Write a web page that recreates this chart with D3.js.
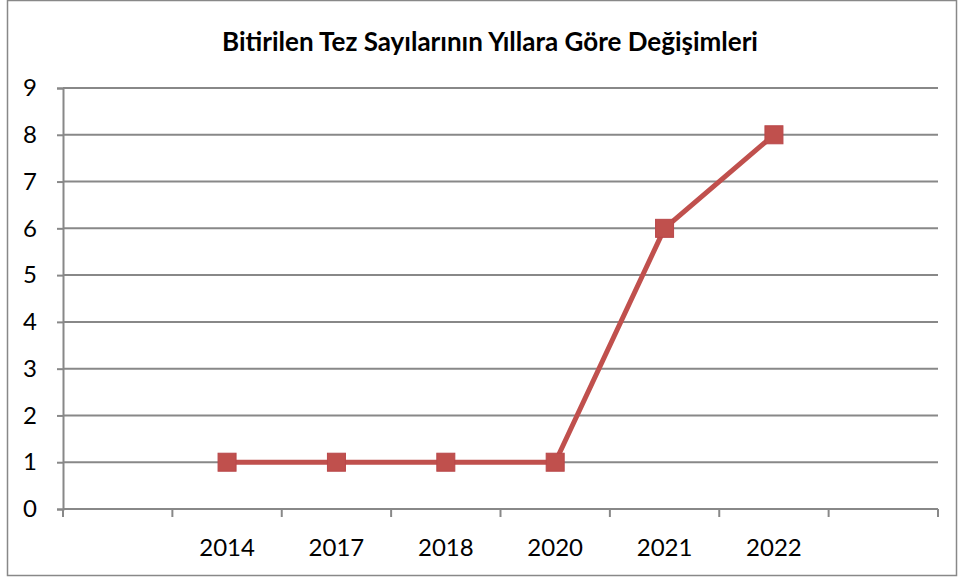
<html>
  <style type="text/css">
    body { margin: 0; background: #fff; }
    text { font-family: Lato, "Open Sans", sans-serif; }
  </style>
  <body>
    <script src="https://cdnjs.cloudflare.com/ajax/libs/d3/7.8.5/d3.min.js"></script>
    <script type="text/javascript">
      // categories (first and last slots are empty in the original chart)
      const years = ["", "2014", "2017", "2018", "2020", "2021", "2022", " "];
      const counts = [null, 1, 1, 1, 1, 6, 8, null];
      const yTicks = [0, 1, 2, 3, 4, 5, 6, 7, 8, 9];
      const title = "Bitirilen Tez Sayılarının Yıllara Göre Değişimleri";

      const W = 958, H = 577;
      const plot = { left: 63, right: 938, top: 88, bottom: 509 };

      const svg = d3.select("body").append("svg")
        .attr("width", W).attr("height", H);

      svg.append("rect")
        .attr("x", 7.5).attr("y", 0.5)
        .attr("width", 949).attr("height", 575)
        .attr("fill", "#fff").attr("stroke", "#888").attr("stroke-width", 1.5);

      svg.append("text")
        .attr("x", 490).attr("y", 51)
        .attr("text-anchor", "middle")
        .attr("font-size", 26).attr("font-weight", "bold")
        .text(title);

      const x = d3.scaleBand().domain(years).range([plot.left, plot.right]);
      const y = d3.scaleLinear().domain([0, 9]).range([plot.bottom, plot.top]);

      // gridlines
      svg.append("g").selectAll("line")
        .data(yTicks.filter(d => d > 0))
        .enter().append("line")
        .attr("x1", plot.left).attr("x2", plot.right)
        .attr("y1", d => y(d)).attr("y2", d => y(d))
        .attr("stroke", "#888").attr("stroke-width", 2);

      // y axis
      const yAxis = svg.append("g")
        .attr("transform", `translate(${plot.left},0)`)
        .call(d3.axisLeft(y).tickValues(yTicks).tickSize(6).tickPadding(20));
      yAxis.select(".domain").attr("stroke", "#888").attr("stroke-width", 2);
      yAxis.selectAll(".tick line").attr("stroke", "#888").attr("stroke-width", 2);
      yAxis.selectAll("text").attr("font-size", 24).attr("fill", "#000")
        .attr("font-family", "Lato, sans-serif");

      // x axis: ticks at band boundaries, labels at centers
      const xg = svg.append("g");
      xg.append("line")
        .attr("x1", plot.left).attr("x2", plot.right)
        .attr("y1", plot.bottom).attr("y2", plot.bottom)
        .attr("stroke", "#888").attr("stroke-width", 2);
      const bounds = years.map(d => x(d)).concat([plot.right]);
      xg.selectAll(".xt").data(bounds).enter().append("line")
        .attr("x1", d => d).attr("x2", d => d)
        .attr("y1", plot.bottom).attr("y2", plot.bottom + 8)
        .attr("stroke", "#888").attr("stroke-width", 2);
      xg.selectAll(".xl").data(years).enter().append("text")
        .attr("x", d => x(d) + x.bandwidth() / 2)
        .attr("y", 556)
        .attr("text-anchor", "middle")
        .attr("font-size", 24)
        .text(d => d.trim());

      const pts = years.map((d, i) => ({ k: d, v: counts[i] })).filter(d => d.v !== null);
      const cx = d => x(d.k) + x.bandwidth() / 2;

      svg.append("path")
        .datum(pts)
        .attr("fill", "none")
        .attr("stroke", "#c0504d")
        .attr("stroke-width", 5)
        .attr("d", d3.line().x(cx).y(d => y(d.v)));

      const m = 18;
      svg.append("g").selectAll("rect")
        .data(pts).enter().append("rect")
        .attr("x", d => cx(d) - m / 2)
        .attr("y", d => y(d.v) - m / 2)
        .attr("width", m).attr("height", m)
        .attr("fill", "#c0504d").attr("stroke", "#b9474a").attr("stroke-width", 1);
    </script>
  </body>
</html>
